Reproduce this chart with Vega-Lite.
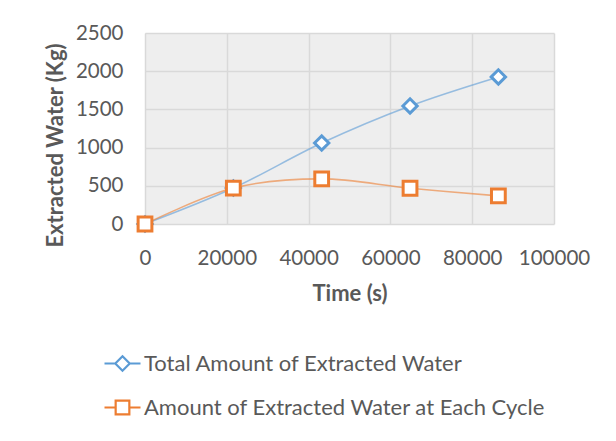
{
  "$schema": "https://vega.github.io/schema/vega-lite/v6.json",
  "width": 409,
  "height": 191,
  "autosize": {"type": "none"},
  "padding": {"left": 145, "top": 33, "right": 62, "bottom": 217},
  "background": "white",
  "config": {
    "font": "Lato",
    "view": {"fill": "#eeeeee", "stroke": null},
    "axis": {
      "labelFont": "Lato",
      "labelFontSize": 20.5,
      "labelColor": "#595959",
      "labelOverlap": false,
      "labelFlush": false,
      "titleFont": "Lato",
      "titleFontSize": 22,
      "titleFontWeight": "bold",
      "titleColor": "#595959",
      "gridColor": "#d9d9d9",
      "gridWidth": 1.5,
      "domain": false,
      "ticks": false,
      "tickSize": 0
    }
  },
  "data": {
    "values": [
      {"time": 0, "water": 0, "series": "Total Amount of Extracted Water"},
      {"time": 21600, "water": 470, "series": "Total Amount of Extracted Water"},
      {"time": 43200, "water": 1060, "series": "Total Amount of Extracted Water"},
      {"time": 64800, "water": 1545, "series": "Total Amount of Extracted Water"},
      {"time": 86400, "water": 1925, "series": "Total Amount of Extracted Water"},
      {"time": 0, "water": 0, "series": "Amount of Extracted Water at Each Cycle"},
      {"time": 21600, "water": 470, "series": "Amount of Extracted Water at Each Cycle"},
      {"time": 43200, "water": 590, "series": "Amount of Extracted Water at Each Cycle"},
      {"time": 64800, "water": 468, "series": "Amount of Extracted Water at Each Cycle"},
      {"time": 86400, "water": 368, "series": "Amount of Extracted Water at Each Cycle"}
    ]
  },
  "encoding": {
    "x": {
      "field": "time",
      "type": "quantitative",
      "scale": {"domain": [0, 100000], "nice": false},
      "axis": {
        "title": "Time (s)",
        "values": [0, 20000, 40000, 60000, 80000, 100000],
        "format": "d",
        "labelBaseline": "alphabetic",
        "labelPadding": 40,
        "titleBaseline": "alphabetic",
        "titleY": 76,
        "titleX": 204.5
      }
    },
    "y": {
      "field": "water",
      "type": "quantitative",
      "scale": {"domain": [0, 2500], "nice": false},
      "axis": {
        "title": "Extracted Water (Kg)",
        "values": [0, 500, 1000, 1500, 2000, 2500],
        "format": "d",
        "labelPadding": 22,
        "labelBaseline": "middle",
        "titleBaseline": "alphabetic",
        "titleAlign": "center",
        "titleAngle": -90,
        "titleX": -83,
        "titleY": 112
      }
    }
  },
  "layer": [
    {
      "mark": {"type": "line", "interpolate": "cardinal", "strokeWidth": 1.6, "strokeOpacity": 0.6},
      "encoding": {
        "color": {
          "field": "series",
          "type": "nominal",
          "scale": {
            "domain": ["Total Amount of Extracted Water", "Amount of Extracted Water at Each Cycle"],
            "range": ["#5b9bd5", "#ed7d31"]
          },
          "legend": {
            "title": null,
            "orient": "none",
            "legendX": -42,
            "legendY": 311,
            "direction": "vertical",
            "padding": 0,
            "symbolSize": 1296,
            "symbolStrokeWidth": 2.2,
            "symbolOpacity": 1,
            "rowPadding": 12,
            "labelOffset": 2,
            "labelFont": "Lato",
            "labelFontSize": 22,
            "labelColor": "#595959",
            "labelLimit": 600,
            "encode": {
              "symbols": {
                "update": {
                  "fill": {"value": "white"},
                  "fillOpacity": {"value": 1},
                  "strokeOpacity": {"value": 1},
                  "opacity": {"value": 1},
                  "shape": {"signal": "datum.value === 'Total Amount of Extracted Water' ? 'M-1,0H-0.42M0.42,0H1M0,-0.4L0.4,0L0,0.4L-0.4,0Z' : 'M-1,0H-0.38M0.38,0H1M-0.38,-0.38H0.38V0.38H-0.38Z'"}
                }
              }
            }
          }
        }
      }
    },
    {
      "mark": {"type": "point", "filled": false, "fill": "white", "fillOpacity": 1, "opacity": 1, "strokeWidth": 3},
      "encoding": {
        "stroke": {
          "condition": {"test": "datum.series === 'Total Amount of Extracted Water'", "value": "#5b9bd5"},
          "value": "#ed7d31"
        },
        "shape": {
          "condition": {"test": "datum.series === 'Total Amount of Extracted Water'", "value": "diamond"},
          "value": "square"
        },
        "size": {
          "condition": {"test": "datum.series === 'Total Amount of Extracted Water'", "value": 205},
          "value": 190
        }
      }
    }
  ]
}
